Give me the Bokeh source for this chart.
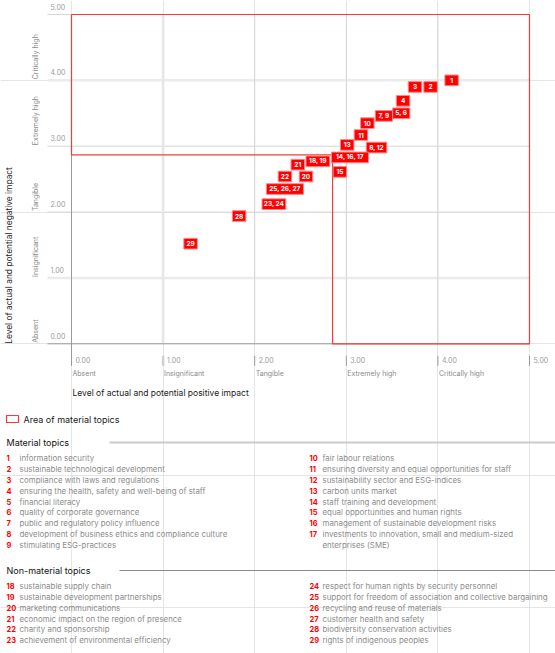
import math
from bokeh.plotting import figure
from bokeh.models import Range1d
from bokeh.core.properties import value
from bokeh.embed import file_html
from bokeh.resources import INLINE

# ---------------- data ----------------
x_ticks = [0, 1, 2, 3, 4, 5]
y_ticks = [0, 1, 2, 3, 4, 5]
levels = ["Absent", "Insignificant", "Tangible", "Extremely high", "Critically high"]
x_title = "Level of actual and potential positive impact"
y_title = "Level of actual and potential negative impact"
material_threshold_x = 2.85
material_threshold_y = 2.87
legend_label = "Area of material topics"

point_labels = ["1", "2", "3", "4", "5, 6", "7, 9", "10", "11", "13", "8, 12",
                "14, 16, 17", "15", "18, 19", "21", "22", "20", "25, 26, 27",
                "23, 24", "28", "29"]
point_x = [4.15, 3.92, 3.75, 3.62, 3.60, 3.41, 3.23, 3.16, 3.01, 3.33,
           3.04, 2.93, 2.69, 2.47, 2.33, 2.56, 2.33, 2.21, 1.83, 1.30]
point_y = [4.00, 3.90, 3.90, 3.69, 3.50, 3.46, 3.35, 3.17, 3.02, 2.98,
           2.83, 2.61, 2.77, 2.72, 2.54, 2.54, 2.35, 2.12, 1.94, 1.52]

material_title = "Material topics"
material_ids = [1, 2, 3, 4, 5, 6, 7, 8, 9, 10, 11, 12, 13, 14, 15, 16, 17]
material_topics = [
    "information security",
    "sustainable technological development",
    "compliance with laws and regulations",
    "ensuring the health, safety and well-being of staff",
    "financial literacy",
    "quality of corporate governance",
    "public and regulatory policy influence",
    "development of business ethics and compliance culture",
    "stimulating ESG-practices",
    "fair labour relations",
    "ensuring diversity and equal opportunities for staff",
    "sustainability sector and ESG-indices",
    "carbon units market",
    "staff training and development",
    "equal opportunities and human rights",
    "management of sustainable development risks",
    "investments to innovation, small and medium-sized\nenterprises (SME)",
]

non_material_title = "Non-material topics"
non_material_ids = [18, 19, 20, 21, 22, 23, 24, 25, 26, 27, 28, 29]
non_material_topics = [
    "sustainable supply chain",
    "sustainable development partnerships",
    "marketing communications",
    "economic impact on the region of presence",
    "charity and sponsorship",
    "achievement of environmental efficiency",
    "respect for human rights by security personnel",
    "support for freedom of association and collective bargaining",
    "recycling and reuse of materials",
    "customer health and safety",
    "biodiversity conservation activities",
    "rights of indigenous peoples",
]

# ---------------- layout constants ----------------
W, H = 555, 653
REF_L, REF_T = 0, 0          # layout pixel shown at canvas left / top
X0_PX, XPX = 71.0, 91.6      # pixel of x=0, pixels per unit
Y0_PX, YPX = 343.3, 65.86    # pixel of y=0, pixels per unit

FONT = value("Inter")
RED = "#ff0000"
GREY_TXT = "#8c8c8c"
AXIS_C = "#9a9a9a"


def dxp(px):
    return (px - X0_PX) / XPX


def dyp(py):
    return (Y0_PX - py) / YPX


p = figure(width=W, height=H, output_backend="svg", toolbar_location=None,
           title=None,
           x_range=Range1d(dxp(REF_L), dxp(REF_L + W)),
           y_range=Range1d(dyp(REF_T + H), dyp(REF_T)),
           x_axis_location=None, y_axis_location=None,
           min_border=0, outline_line_color=None)
p.extra_x_ranges = {"px": Range1d(REF_L, REF_L + W)}
p.extra_y_ranges = {"px": Range1d(REF_T + H, REF_T)}
p.background_fill_color = "white"
p.border_fill_color = "white"

xmax = x_ticks[-1]
ymax = y_ticks[-1]
left_ext = -24 / XPX

# horizontal grid lines
for i, v in enumerate(y_ticks):
    if i == 0:
        continue
    heavy = i in (1, 4)
    p.segment(x0=[left_ext], y0=[v], x1=[xmax], y1=[v],
              line_color="#ebebeb" if heavy else "#d6d6d6",
              line_width=2.5 if heavy else 1)
# vertical grid lines
for i, v in enumerate(x_ticks):
    if i == 0:
        continue
    heavy = i == 1
    p.segment(x0=[v], y0=[y_ticks[0]], x1=[v], y1=[ymax],
              line_color="#e6e6e6" if heavy else "#d6d6d6",
              line_width=2.5 if heavy else 1)
    # tick marks below the axis
    p.segment(x0=[v], y0=[-12 / YPX], x1=[v], y1=[-22 / YPX],
              line_color="#cfcfcf" if heavy else AXIS_C,
              line_width=2.5 if heavy else 1)

# x axis line and y axis line
p.segment(x0=[left_ext], y0=[y_ticks[0]], x1=[xmax], y1=[y_ticks[0]],
          line_color=AXIS_C, line_width=1)
p.segment(x0=[x_ticks[0]], y0=[ymax], x1=[x_ticks[0]], y1=[-22 / YPX],
          line_color=AXIS_C, line_width=1)

# x tick labels
p.text(x=[v + 4 / XPX for v in x_ticks], y=[-16 / YPX] * len(x_ticks),
       text=[f"{v:.2f}" for v in x_ticks], text_font=FONT, text_font_size="7px",
       text_color="#9a9a9a", text_align="left", text_baseline="middle")
# x category labels
p.text(x=[v + 1 / XPX for v in x_ticks[:len(levels)]], y=[-30 / YPX] * len(levels),
       text=levels, text_font=FONT, text_font_size="7px",
       text_color="#8a8a8a", text_align="left", text_baseline="middle")
# x title
p.text(x=[x_ticks[0] + 1 / XPX], y=[-49 / YPX], text=[x_title], text_font=FONT,
       text_font_size="8.5px", text_color="#1a1a1a", text_align="left",
       text_baseline="middle")

# y tick labels
p.text(x=[-21 / XPX] * len(y_ticks), y=[v + 8 / YPX for v in y_ticks],
       text=[f"{v:.2f}" for v in y_ticks], text_font=FONT, text_font_size="7px",
       text_color="#9a9a9a", text_align="left", text_baseline="middle")
# y category labels (rotated)
p.text(x=[-36 / XPX] * len(levels), y=[v + 1 / YPX for v in y_ticks[:len(levels)]],
       text=levels, angle=math.pi / 2, text_font=FONT, text_font_size="7px",
       text_color="#8a8a8a", text_align="left", text_baseline="middle")
# y title
p.text(x=[dxp(8)], y=[y_ticks[0]], text=[y_title], angle=math.pi / 2,
       text_font=FONT, text_font_size="8.4px", text_color="#1a1a1a",
       text_align="left", text_baseline="middle")

# material area outline
tx, ty = material_threshold_x, material_threshold_y
p.patch(x=[x_ticks[0], xmax, xmax, tx, tx, x_ticks[0]],
        y=[ymax, ymax, y_ticks[0], y_ticks[0], ty, ty],
        fill_color=None, line_color="#f23c3c", line_width=1.2)

# topic markers
widths = [max(13.5, 3.3 * len(s) + 4) for s in point_labels]
p.rect(x=point_x, y=point_y, width=widths, height=[10.7] * len(point_x),
       width_units="screen", height_units="screen",
       fill_color=RED, line_color="#ff8a8a", line_width=1)
p.text(x=point_x, y=point_y, text=point_labels, text_font=FONT,
       text_font_size="6.5px", text_font_style="bold", text_color="white",
       text_align="center", text_baseline="middle")

# ---------------- legend and lists (pixel coordinates) ----------------
kw = dict(x_range_name="px", y_range_name="px")
p.quad(left=[6], right=[18], top=[415], bottom=[422], fill_color=None,
       line_color="#f23c3c", line_width=1.2, **kw)
p.text(x=[23], y=[418.5], text=[legend_label], text_font=FONT,
       text_font_size="9px", text_color="#1a1a1a", text_align="left",
       text_baseline="middle", **kw)


def section(title, y_head, line_x, line_color, line_w, ids, topics, y0, step):
    p.text(x=[6], y=[y_head], text=[title], text_font=FONT, text_font_size="9px",
           text_color="#111111", text_align="left", text_baseline="middle", **kw)
    p.segment(x0=[line_x], y0=[y_head], x1=[REF_L + W], y1=[y_head],
              line_color=line_color, line_width=line_w, **kw)
    n1 = math.ceil(len(ids) / 2)
    nx, ny, nt, tx_, ty_, tt = [], [], [], [], [], []
    for k, (num, topic) in enumerate(zip(ids, topics)):
        col = 0 if k < n1 else 1
        row = k if col == 0 else k - n1
        xn = 6 if col == 0 else 309
        xt = 19 if col == 0 else 322
        yy = y0 + row * step
        nx.append(xn); ny.append(yy); nt.append(str(num))
        for j, line in enumerate(topic.split("\n")):
            tx_.append(xt); ty_.append(yy + j * step); tt.append(line)
    p.text(x=nx, y=ny, text=nt, text_font=FONT, text_font_size="7.5px",
           text_font_style="bold", text_color=RED, text_align="left",
           text_baseline="middle", **kw)
    p.text(x=tx_, y=ty_, text=tt, text_font=FONT, text_font_size="7.9px",
           text_color=GREY_TXT, text_align="left", text_baseline="middle", **kw)


section(material_title, 442, 109, "#cccccc", 2, material_ids, material_topics, 457.3, 10.93)
section(non_material_title, 570, 119, "#8a8a8a", 1, non_material_ids, non_material_topics, 585.7, 10.8)

open("out.html", "w").write(file_html(p, INLINE))
